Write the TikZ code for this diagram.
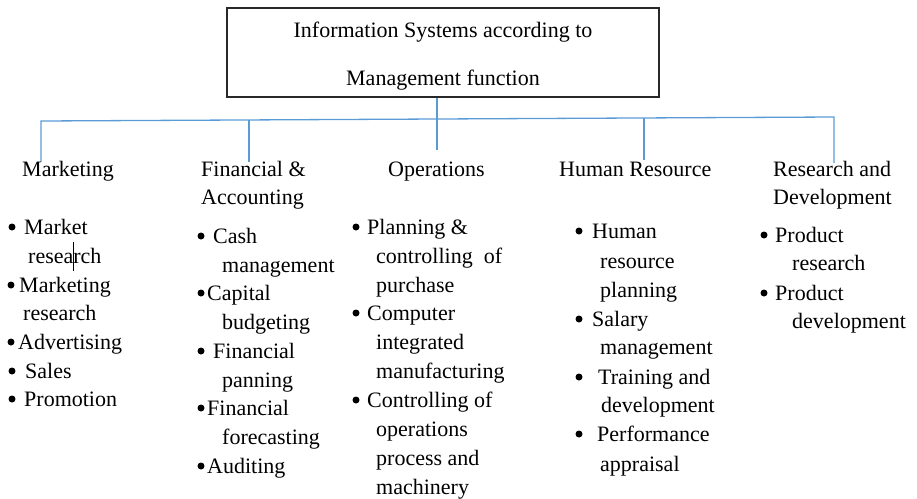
\documentclass[tikz,border=0pt]{standalone}
\usepackage{fontspec}
\setmainfont{Liberation Serif}
\definecolor{linkblue}{RGB}{91,155,213}
\definecolor{boxgray}{RGB}{40,40,40}
\tikzset{
  txt/.style={anchor=base west, inner sep=0pt, font=\fontsize{22}{26}\selectfont},
  bul/.style={circle, fill=black, inner sep=0pt, minimum size=7pt},
  link/.style={draw=linkblue, line width=1.3pt},
  titlebox/.style={draw=boxgray, line width=1.3pt, minimum width=432pt, minimum height=89pt,
    inner sep=0pt, align=center, font=\fontsize{22}{48}\selectfont},
}
\begin{document}
\begin{tikzpicture}[x=1pt, y=-1pt]
\useasboundingbox (0,0) rectangle (917,498);

% root box
\node[titlebox] (title) at (443,52.5) {\rule{0pt}{23.5pt}Information Systems according to\\Management function};

% connector tree: bus and drops
\coordinate (bus-l) at (41,121);
\coordinate (bus-r) at (834,117);
\coordinate (mk-end) at (41,162);
\coordinate (fa-bus) at (249,120);
\coordinate (fa-end) at (249,162);
\coordinate (op-end) at (437,150);
\coordinate (hr-bus) at (644,118);
\coordinate (hr-end) at (644,160);
\coordinate (rd-end) at (834,163);
\draw[link] (title.south -| op-end) -- (op-end);
\draw[link] (mk-end) -- (bus-l) -- (bus-r) -- (rd-end);
\draw[link] (fa-bus) -- (fa-end);
\draw[link] (hr-bus) -- (hr-end);

% column headings
\node[txt] (mk) at (22,176) {Marketing};
\node[txt] (fa) at (201,176) {Financial \&};
\node[txt] (fa2) at (201,204) {Accounting};
\node[txt] (op) at (388,176) {Operations};
\node[txt] (hr) at (559,176) {Human Resource};
\node[txt] (rd) at (773,176) {Research and};
\node[txt] (rd2) at (773,204) {Development};

% Marketing items
\node[bul] (mk-b1) at (12,227) {};
\node[txt] (mk-1a) at (24,234) {Market};
\node[txt] (mk-1b) at (28,263) {research};
\node[bul] (mk-b2) at (11,285) {};
\node[txt] (mk-2a) at (19,292) {Marketing};
\node[txt] (mk-2b) at (23,320) {research};
\node[bul] (mk-b3) at (11,342) {};
\node[txt] (mk-3) at (18,349) {Advertising};
\node[bul] (mk-b4) at (12,371) {};
\node[txt] (mk-4) at (25,378) {Sales};
\node[bul] (mk-b5) at (12,399) {};
\node[txt] (mk-5) at (24,406) {Promotion};
% text cursor mark
\draw[black, line width=0.9pt] (73,242) -- (73,271);

% Financial & Accounting items
\node[bul] (fa-b1) at (201,236) {};
\node[txt] (fa-1a) at (213,243) {Cash};
\node[txt] (fa-1b) at (222,272) {management};
\node[bul] (fa-b2) at (201,293) {};
\node[txt] (fa-2a) at (207,300) {Capital};
\node[txt] (fa-2b) at (222,329) {budgeting};
\node[bul] (fa-b3) at (201,351) {};
\node[txt] (fa-3a) at (213,358) {Financial};
\node[txt] (fa-3b) at (222,387) {panning};
\node[bul] (fa-b4) at (201,408) {};
\node[txt] (fa-4a) at (207,415) {Financial};
\node[txt] (fa-4b) at (222,444) {forecasting};
\node[bul] (fa-b5) at (201,466) {};
\node[txt] (fa-5) at (207,473) {Auditing};

% Operations items
\node[bul] (op-b1) at (356,227) {};
\node[txt] (op-1a) at (367,234) {Planning \&};
\node[txt] (op-1b) at (376,263) {controlling\ \ of};
\node[txt] (op-1c) at (376,292) {purchase};
\node[bul] (op-b2) at (356,313) {};
\node[txt] (op-2a) at (367,320) {Computer};
\node[txt] (op-2b) at (376,349) {integrated};
\node[txt] (op-2c) at (376,378) {manufacturing};
\node[bul] (op-b3) at (356,400) {};
\node[txt] (op-3a) at (367,407) {Controlling of};
\node[txt] (op-3b) at (376,436) {operations};
\node[txt] (op-3c) at (376,465) {process and};
\node[txt] (op-3d) at (376,494) {machinery};

% Human Resource items
\node[bul] (hr-b1) at (579,231) {};
\node[txt] (hr-1a) at (592,238) {Human};
\node[txt] (hr-1b) at (600,268) {resource};
\node[txt] (hr-1c) at (600,297) {planning};
\node[bul] (hr-b2) at (579,319) {};
\node[txt] (hr-2a) at (592,326) {Salary};
\node[txt] (hr-2b) at (600,354) {management};
\node[bul] (hr-b3) at (579,377) {};
\node[txt] (hr-3a) at (598,384) {Training and};
\node[txt] (hr-3b) at (601,412) {development};
\node[bul] (hr-b4) at (579,434) {};
\node[txt] (hr-4a) at (597,441) {Performance};
\node[txt] (hr-4b) at (600,471) {appraisal};

% Research and Development items
\node[bul] (rd-b1) at (764,235) {};
\node[txt] (rd-1a) at (775,242) {Product};
\node[txt] (rd-1b) at (792,270) {research};
\node[bul] (rd-b2) at (764,293) {};
\node[txt] (rd-2a) at (775,300) {Product};
\node[txt] (rd-2b) at (792,328) {development};
\end{tikzpicture}
\end{document}
